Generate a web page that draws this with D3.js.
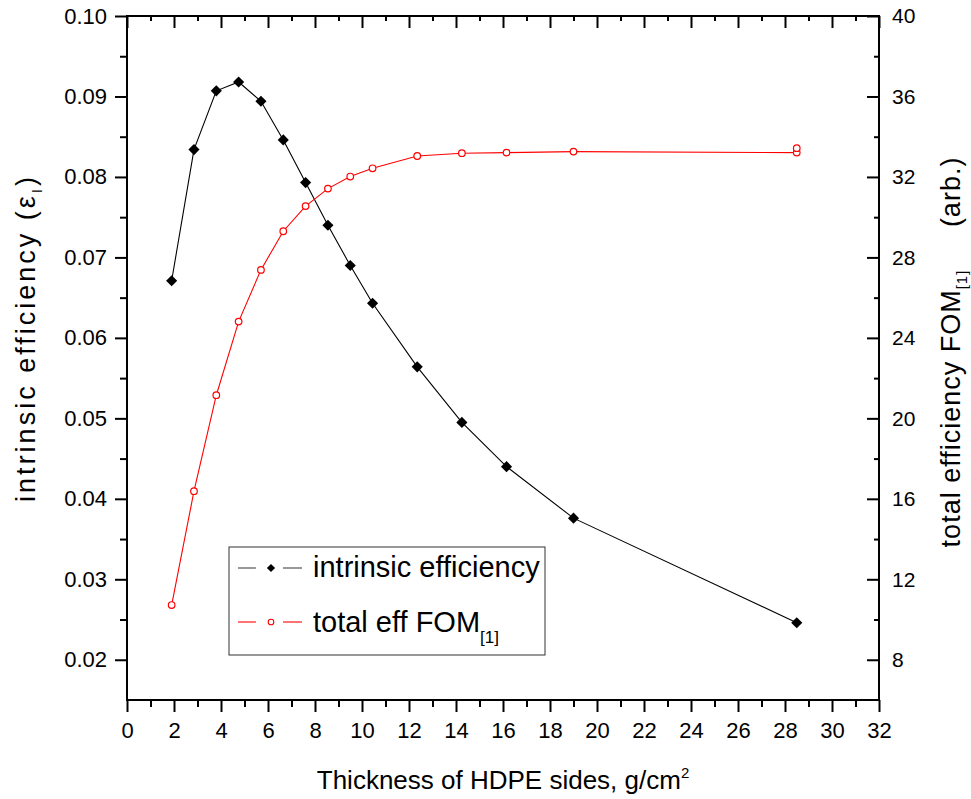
<!DOCTYPE html>
<html>
<head>
<meta charset="utf-8">
<script src="https://cdn.jsdelivr.net/npm/d3@7"></script>
<style>
  html, body { margin: 0; padding: 0; background: #fff; }
  svg { display: block; font-family: "Liberation Sans", Arial, sans-serif; }
</style>
</head>
<body>
<svg id="chart" width="971" height="799"></svg>
<script>
// ---- data ----
const thickness = [1.9, 2.85, 3.8, 4.75, 5.7, 6.65, 7.6, 8.55, 9.5, 10.45, 12.35, 14.25, 16.15, 19.0, 28.5];
const intrinsicEff = [0.0671, 0.0834, 0.0907, 0.0918, 0.0894, 0.0846, 0.0793, 0.0740, 0.0690, 0.0643, 0.0564, 0.0495, 0.0440, 0.0376, 0.0246];
const fomThickness = [1.9, 2.85, 3.8, 4.75, 5.7, 6.65, 7.6, 8.55, 9.5, 10.45, 12.35, 14.25, 16.15, 19.0, 28.5, 28.5];
const totalFom = [10.72, 16.38, 21.15, 24.81, 27.38, 29.30, 30.55, 31.42, 32.02, 32.43, 33.04, 33.18, 33.21, 33.26, 33.21, 33.43];
const xMajorTicks = [0, 2, 4, 6, 8, 10, 12, 14, 16, 18, 20, 22, 24, 26, 28, 30, 32];
const xMinorTicks = [1, 3, 5, 7, 9, 11, 13, 15, 17, 19, 21, 23, 25, 27, 29, 31];
const yLeftMajorTicks = [0.02, 0.03, 0.04, 0.05, 0.06, 0.07, 0.08, 0.09, 0.10];
const yLeftMinorTicks = [0.025, 0.035, 0.045, 0.055, 0.065, 0.075, 0.085, 0.095];
const yRightMajorTicks = [8, 12, 16, 20, 24, 28, 32, 36, 40];
const yRightMinorTicks = [10, 14, 18, 22, 26, 30, 34, 38];
const seriesNames = ["intrinsic efficiency", "total eff FOM"];

// ---- layout ----
const L = 127, R = 879, T = 16, B = 700;
const svg = d3.select("#chart");

const x = d3.scaleLinear().domain([0, 32]).range([L, R]);
const yL = d3.scaleLinear().domain([0.015, 0.10]).range([B, T]);
const yR = d3.scaleLinear().domain([6, 40]).range([B, T]);

function styleAxis(g, fs) {
  g.select(".domain").remove();
  g.selectAll(".tick line").attr("stroke", "#000").attr("stroke-width", 2);
  g.selectAll(".tick text").attr("fill", "#000").style("font-size", fs + "px")
    .style("font-family", '"Liberation Sans", Arial, sans-serif');
}

// bottom axis
svg.append("g").attr("transform", `translate(0,${B})`)
  .call(d3.axisBottom(x).tickValues(xMajorTicks).tickFormat(d3.format("d")).tickSize(12).tickPadding(10))
  .call(g => styleAxis(g, 22));
svg.append("g").attr("transform", `translate(0,${B})`)
  .call(d3.axisBottom(x).tickValues(xMinorTicks).tickFormat("").tickSize(7))
  .call(g => styleAxis(g, 22));
// top axis (inward ticks)
svg.append("g").attr("transform", `translate(0,${T})`)
  .call(d3.axisTop(x).tickValues(xMajorTicks).tickFormat("").tickSizeInner(-12).tickSizeOuter(0))
  .call(g => styleAxis(g, 22));
svg.append("g").attr("transform", `translate(0,${T})`)
  .call(d3.axisTop(x).tickValues(xMinorTicks).tickFormat("").tickSizeInner(-5).tickSizeOuter(0))
  .call(g => styleAxis(g, 22));
// left axis
svg.append("g").attr("transform", `translate(${L},0)`)
  .call(d3.axisLeft(yL).tickValues(yLeftMajorTicks).tickFormat(d3.format(".2f")).tickSize(12).tickPadding(8))
  .call(g => styleAxis(g, 22));
svg.append("g").attr("transform", `translate(${L},0)`)
  .call(d3.axisLeft(yL).tickValues(yLeftMinorTicks).tickFormat("").tickSize(7))
  .call(g => styleAxis(g, 22));
// right axis (inward ticks, labels outside)
svg.append("g").attr("transform", `translate(${R},0)`)
  .call(d3.axisRight(yR).tickValues(yRightMajorTicks).tickFormat(d3.format("d")).tickSizeInner(-12).tickSizeOuter(0).tickPadding(13))
  .call(g => styleAxis(g, 21));
svg.append("g").attr("transform", `translate(${R},0)`)
  .call(d3.axisRight(yR).tickValues(yRightMinorTicks).tickFormat("").tickSizeInner(-5).tickSizeOuter(0))
  .call(g => styleAxis(g, 21));

// frame
svg.append("rect").attr("x", L).attr("y", T).attr("width", R - L).attr("height", B - T)
  .attr("fill", "none").attr("stroke", "#000").attr("stroke-width", 2);

// ---- series ----
const diamond = d3.symbol().type(d3.symbolSquare).size(62);
const blackData = thickness.map((t, i) => [t, intrinsicEff[i]]);
const redData = fomThickness.map((t, i) => [t, totalFom[i]]);

svg.append("path").datum(blackData)
  .attr("d", d3.line().x(d => x(d[0])).y(d => yL(d[1])))
  .attr("fill", "none").attr("stroke", "#000").attr("stroke-width", 1.1);
svg.append("path").datum(redData)
  .attr("d", d3.line().x(d => x(d[0])).y(d => yR(d[1])))
  .attr("fill", "none").attr("stroke", "#ff0000").attr("stroke-width", 1.1);

svg.append("g").selectAll("path").data(blackData).join("path")
  .attr("d", diamond)
  .attr("transform", d => `translate(${x(d[0])},${yL(d[1])}) rotate(45)`)
  .attr("fill", "#000");
svg.append("g").selectAll("circle").data(redData).join("circle")
  .attr("cx", d => x(d[0])).attr("cy", d => yR(d[1])).attr("r", 3.3)
  .attr("fill", "#fff").attr("stroke", "#ff0000").attr("stroke-width", 1.2);

// ---- legend ----
const lg = svg.append("g");
lg.append("rect").attr("x", 229).attr("y", 547).attr("width", 316).attr("height", 108)
  .attr("fill", "#fff").attr("stroke", "#333").attr("stroke-width", 1);
// row 1
lg.append("line").attr("x1", 238).attr("x2", 256).attr("y1", 568).attr("y2", 568).attr("stroke", "#444").attr("stroke-width", 1.1);
lg.append("line").attr("x1", 283).attr("x2", 302).attr("y1", 568).attr("y2", 568).attr("stroke", "#444").attr("stroke-width", 1.1);
lg.append("path").attr("d", d3.symbol().type(d3.symbolSquare).size(34)())
  .attr("transform", "translate(271,568) rotate(45)").attr("fill", "#000");
lg.append("text").attr("x", 313).attr("y", 577).style("font-size", "29px").attr("fill", "#000").text(seriesNames[0]);
// row 2
lg.append("line").attr("x1", 238).attr("x2", 256).attr("y1", 622).attr("y2", 622).attr("stroke", "#ff0000").attr("stroke-width", 1.1);
lg.append("line").attr("x1", 283).attr("x2", 302).attr("y1", 622).attr("y2", 622).attr("stroke", "#ff0000").attr("stroke-width", 1.1);
lg.append("circle").attr("cx", 271).attr("cy", 622).attr("r", 2.8).attr("fill", "#fff").attr("stroke", "#ff0000").attr("stroke-width", 1.1);
const t2 = lg.append("text").attr("x", 313).attr("y", 632).style("font-size", "29px").attr("fill", "#000");
t2.append("tspan").text(seriesNames[1]);
t2.append("tspan").attr("dy", 11).style("font-size", "17px").text("[1]");

// ---- axis titles ----
const xt = svg.append("text").attr("x", (L + R) / 2).attr("y", 789).attr("text-anchor", "middle")
  .style("font-size", "26px").attr("fill", "#000");
xt.append("tspan").text("Thickness of HDPE sides, g/cm");
xt.append("tspan").attr("dy", -11).style("font-size", "15px").text("2");

const ylt = svg.append("text").attr("transform", `translate(35,338) rotate(-90)`)
  .attr("text-anchor", "middle").style("font-size", "27px").style("letter-spacing", "3px").attr("fill", "#000");
ylt.append("tspan").text("intrinsic efficiency (ε");
ylt.append("tspan").attr("dy", 7).style("font-size", "15px").text("I");
ylt.append("tspan").attr("dy", -7).text(")");

const yrt = svg.append("text").attr("transform", `translate(960,352) rotate(-90)`)
  .attr("text-anchor", "middle").style("font-size", "27px").style("letter-spacing", "1px").attr("fill", "#000");
yrt.append("tspan").text("total efficiency FOM");
yrt.append("tspan").attr("dy", 7).style("font-size", "15px").text("[1]");
yrt.append("tspan").attr("dy", -7).text("\u00A0\u00A0\u00A0\u00A0\u00A0(arb.)");
</script>
</body>
</html>
